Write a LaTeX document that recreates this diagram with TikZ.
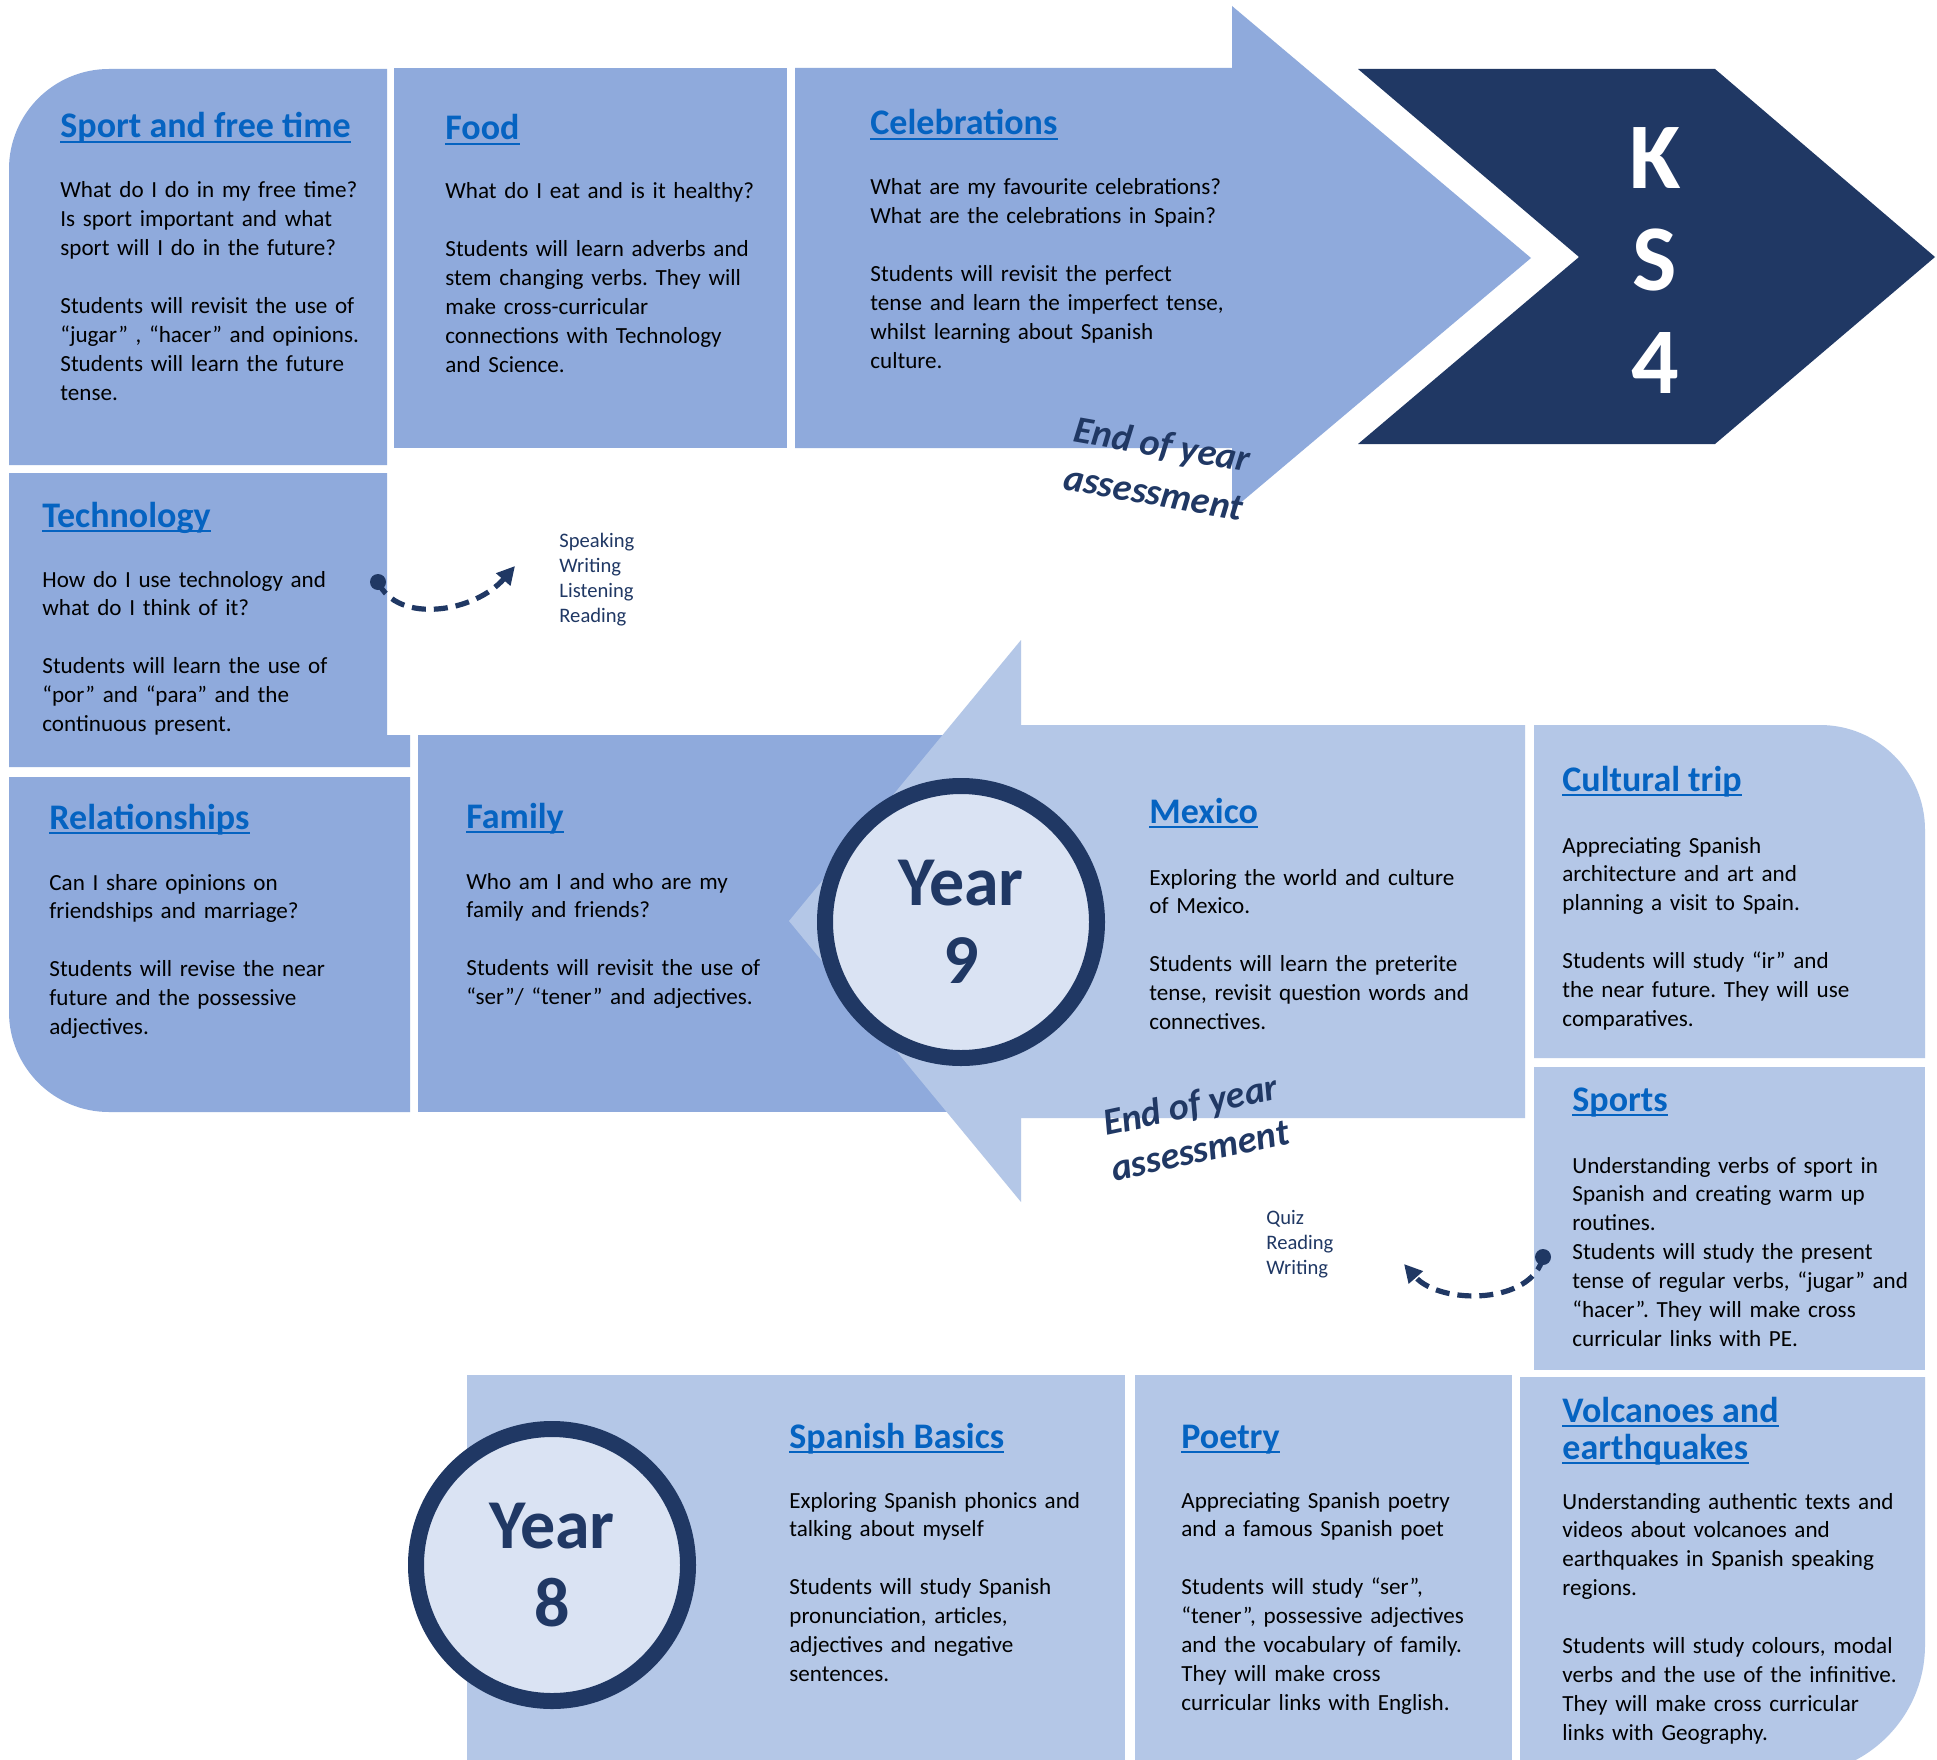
\documentclass[tikz,border=0pt]{standalone}
\usepackage{fontspec}
\setmainfont{Carlito}
\usetikzlibrary{arrows.meta}
\definecolor{bluedark}{HTML}{8FAADC}
\definecolor{bluelight}{HTML}{B4C7E7}
\definecolor{bluepale}{HTML}{DAE3F3}
\definecolor{navy}{HTML}{203864}
\definecolor{tblue}{HTML}{0563C1}
\newcommand\ulnode[1]{\draw[uline] ([yshift=-2.2pt]#1.base west) -- ([yshift=-2.2pt]#1.base east);}
\frenchspacing
\begin{document}
\begin{tikzpicture}[x=0.5pt,y=-0.5pt,
  boxdark/.style={fill=bluedark},
  boxlight/.style={fill=bluelight},
  body/.style={anchor=base west, inner sep=0pt, align=left, text width=178pt, text=black, font=\fontsize{11.55}{14.45}\selectfont\frenchspacing},
  ttl/.style={anchor=base west, inner sep=0pt, text=tblue, font=\fontsize{18}{20}\selectfont\bfseries},
  uline/.style={tblue, line width=1pt},
  small/.style={anchor=base west, inner sep=0pt, align=left, text width=60pt, text=navy, font=\fontsize{10.3}{12.6}\selectfont},
  eoy/.style={text=navy, inner sep=0pt, align=center, font=\fontsize{19}{23}\selectfont\bfseries\itshape},
  ring/.style={circle, draw=navy, line width=8pt, fill=bluepale, minimum size=136pt, inner sep=0pt,
    align=center, text=navy, font=\fontsize{35}{39}\selectfont\bfseries},
  ks/.style={text=white, inner sep=0pt, anchor=base, font=\fontsize{47}{48}\selectfont\bfseries},
  dasharrow/.style={navy, line width=2.6pt, dash pattern=on 7pt off 4pt, -{Triangle[length=9pt,width=9pt]}},
  dot/.style={circle, fill=navy, inner sep=0pt, minimum size=8pt}
]
\useasboundingbox (0,0) rectangle (1937,1760);
\clip (0,0) rectangle (1937,1760);
\fill[white] (0,0) rectangle (1937,1760);

% ---- top row (Year 10) ----
\fill[boxdark] (9,465) -- (9,169) .. controls (9,113.8) and (53.8,69) .. (109,69) -- (387,69) -- (387,465) -- cycle;
\fill[boxdark] (394,68) rectangle (787,448);
\fill[boxdark] (795,68) -- (1232,68) -- (1232,6) -- (1531,258) -- (1232,510) -- (1232,448) -- (795,448) -- cycle;
\fill[navy] (1358,69) -- (1715,69) -- (1935,257) -- (1715,444) -- (1358,444) -- (1579,257) -- cycle;

% ---- middle row (Year 9) ----
\fill[boxdark] (9,473) -- (387,473) -- (387,735) -- (410,735) -- (410,767) -- (9,767) -- cycle;
\fill[boxdark] (9,777) -- (410,777) -- (410,1112) -- (109,1112) .. controls (53.8,1112) and (9,1067.2) .. (9,1012) -- cycle;
\fill[boxdark] (418,735) rectangle (1000,1112);
\fill[boxlight] (789,921) -- (1021,640) -- (1021,725) -- (1525,725) -- (1525,1118) -- (1021,1118) -- (1021,1202) -- cycle;
\fill[boxlight] (1534,1058) -- (1534,725) -- (1820,725) .. controls (1878,725) and (1925,772) .. (1925,830) -- (1925,1058) -- cycle;
\fill[boxlight] (1534,1067) rectangle (1925,1370);

% ---- bottom row (Year 8) ----
\fill[boxlight] (467,1375) rectangle (1125,1775);
\fill[boxlight] (1135,1375) rectangle (1512,1775);
\fill[boxlight] (1520,1377) -- (1925,1377) -- (1925,1645) .. controls (1925,1716.8) and (1866.8,1775) .. (1795,1775) -- (1520,1775) -- cycle;

% ---- circles ----
\node[ring] (c9) at (961,922) {Year\\9};
\node[ring] (c8) at (552,1565) {Year\\8};

% ---- KS4 ----
\node[ks] (k1) at (1655,189) {K};
\node[ks] (k2) at (1655,291) {S};
\node[ks] (k3) at (1655,393) {4};

% ---- titles ----
\node[ttl] (t1) at (60,138) {Sport and free time}; \ulnode{t1}
\node[ttl] (t2) at (445,140) {Food}; \ulnode{t2}
\node[ttl] (t3) at (870,135) {Celebrations}; \ulnode{t3}
\node[ttl] (t4) at (42,527) {Technology}; \ulnode{t4}
\node[ttl] (t5) at (49,829) {Relationships}; \ulnode{t5}
\node[ttl] (t6) at (466,828) {Family}; \ulnode{t6}
\node[ttl] (t7) at (1149,823) {Mexico}; \ulnode{t7}
\node[ttl] (t8) at (1562,791) {Cultural trip}; \ulnode{t8}
\node[ttl] (t9) at (1572,1111) {Sports}; \ulnode{t9}
\node[ttl] (t10) at (789,1448) {Spanish Basics}; \ulnode{t10}
\node[ttl] (t11) at (1181,1448) {Poetry}; \ulnode{t11}
\node[ttl] (t12) at (1562,1422) {Volcanoes and}; \ulnode{t12}
\node[ttl] (t13) at (1562,1459) {earthquakes}; \ulnode{t13}

% ---- body texts ----
\node[body] (b1) at (60,198) {What do I do in my free time?\\Is sport important and what\\sport will I do in the future?\\[14.45pt]Students will revisit the use of\\“jugar” , “hacer” and opinions.\\Students will learn the future\\tense.};
\node[body] (b2) at (445,199) {What do I eat and is it healthy?\\[14.45pt]Students will learn adverbs and\\stem changing verbs. They will\\make cross-curricular\\connections with Technology\\and Science.};
\node[body] (b3) at (870,195) {What are my favourite celebrations?\\What are the celebrations in Spain?\\[14.45pt]Students will revisit the perfect\\tense and learn the imperfect tense,\\whilst learning about Spanish\\culture.};
\node[body] (b4) at (42,587) {How do I use technology and\\what do I think of it?\\[14.45pt]Students will learn the use of\\“por” and “para” and the\\continuous present.};
\node[body] (b5) at (49,890) {Can I share opinions on\\friendships and marriage?\\[14.45pt]Students will revise the near\\future and the possessive\\adjectives.};
\node[body] (b6) at (466,889) {Who am I and who are my\\family and friends?\\[14.45pt]Students will revisit the use of\\“ser”/ “tener” and adjectives.};
\node[body] (b7) at (1149,885) {Exploring the world and culture\\of Mexico.\\[14.45pt]Students will learn the preterite\\tense, revisit question words and\\connectives.};
\node[body] (b8) at (1562,853) {Appreciating Spanish\\architecture and art and\\planning a visit to Spain.\\[14.45pt]Students will study “ir” and\\the near future. They will use\\comparatives.};
\node[body] (b9) at (1572,1173) {Understanding verbs of sport in\\Spanish and creating warm up\\routines.\\Students will study the present\\tense of regular verbs, “jugar” and\\“hacer”. They will make cross\\curricular links with PE.};
\node[body] (b10) at (789,1508) {Exploring Spanish phonics and\\talking about myself\\[14.45pt]Students will study Spanish\\pronunciation, articles,\\adjectives and negative\\sentences.};
\node[body] (b11) at (1181,1508) {Appreciating Spanish poetry\\and a famous Spanish poet\\[14.45pt]Students will study “ser”,\\“tener”, possessive adjectives\\and the vocabulary of family.\\They will make cross\\curricular links with English.};
\node[body] (b12) at (1562,1509) {Understanding authentic texts and\\videos about volcanoes and\\earthquakes in Spanish speaking\\regions.\\[14.45pt]Students will study colours, modal\\verbs and the use of the infinitive.\\They will make cross curricular\\links with Geography.};

% ---- end of year assessments ----
\node[eoy, rotate=-10, font=\fontsize{19}{24.5}\selectfont\bfseries\itshape] (e1) at (1158,468) {End of year\\assessment};
\node[eoy, rotate=12] (e2) at (1195,1127) {End of year\\assessment};

% ---- skills lists ----
\node[small] (s1) at (559,547) {Speaking\\Writing\\Listening\\Reading};
\node[small] (s2) at (1266,1224) {Quiz\\Reading\\Writing};

% ---- dashed arrows ----
\node[dot] (d1) at (378,582) {};
\coordinate (a1) at (515,566);
\draw[dasharrow] (d1.center) .. controls (398,625) and (475,612) .. (a1);
\node[dot] (d2) at (1543,1257) {};
\coordinate (a2) at (1404,1264);
\draw[dasharrow] (d2.center) .. controls (1532,1305) and (1440,1305) .. (a2);
\end{tikzpicture}
\end{document}
